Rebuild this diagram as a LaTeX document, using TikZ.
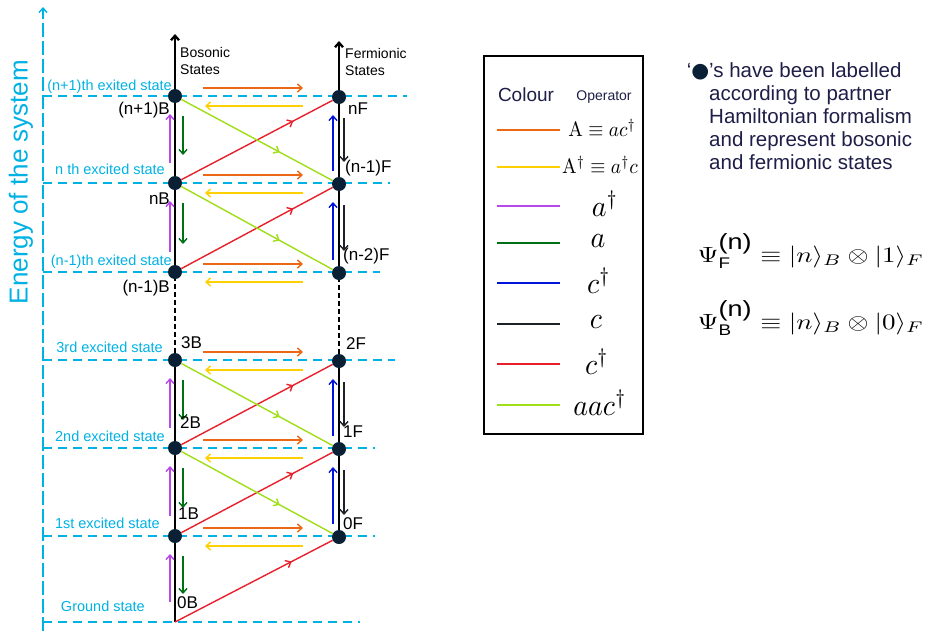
\documentclass[tikz,border=0pt]{standalone}
\usepackage{amsmath}
\usepackage{amssymb}
\usepackage{fontspec}
\setsansfont{Liberation Sans}
\newfontfamily\dejavu{DejaVu Sans}
\usetikzlibrary{arrows.meta,decorations.markings}
\definecolor{levelcyan}{RGB}{0,178,228}
\definecolor{statenavy}{RGB}{10,32,52}
\definecolor{opA}{RGB}{236,104,20}
\definecolor{opAd}{RGB}{255,208,0}
\definecolor{opad}{RGB}{186,72,232}
\definecolor{opa}{RGB}{0,112,20}
\definecolor{opcd}{RGB}{0,20,220}
\definecolor{opc}{RGB}{30,34,40}
\definecolor{opred}{RGB}{232,32,44}
\definecolor{oplime}{RGB}{160,222,24}
\definecolor{notetext}{RGB}{30,30,72}

\begin{document}
\begin{tikzpicture}[x=1pt, y=-1pt, font=\sffamily, >={Straight Barb[length=4.5pt,width=8pt]},
  state/.style={circle, fill=statenavy, minimum size=14pt, inner sep=0pt},
  level/.style={levelcyan, line width=1.4pt, dash pattern=on 9pt off 6pt},
  lvltxt/.style={levelcyan, font=\sffamily\fontsize{14.5}{16}\selectfont, inner sep=0pt, anchor=base east},
  lab/.style={font=\sffamily\fontsize{17}{19}\selectfont, inner sep=0pt},
  head/.style={font=\sffamily\fontsize{14}{17}\selectfont, inner sep=0pt, align=left, anchor=west},
  vline/.style={line width=2.3pt, black},
  op/.style={line width=1.4pt},
  mid/.style={postaction={decorate}, decoration={markings, mark=at position #1 with {\arrow{>}}}},
  eq/.style={anchor=base west, inner sep=0pt, xscale=2.7, yscale=2.2, font=\fontsize{10}{12}\selectfont}]
  \fill[white] (0,0) rectangle (928,631);
  \foreach \y/\e in {622/360,536/375,448/375,360/395,272/380,183/390,96/407}
    \draw[level] (43,\y) -- (\e,\y);
  \coordinate (e0) at (43,631);
  \coordinate (e1) at (43,7);
  \draw[level, ->, dash pattern=on 14pt off 4pt] (e0) -- (e1);
  \node[levelcyan, rotate=90, font=\sffamily\fontsize{26}{30}\selectfont] (elab) at (21,182) {Energy of the system};

  \coordinate (b0) at (175,622);
  \foreach \k/\y in {1/536,2/448,3/360,4/272,5/183,6/96} {
    \node[state] (b\k) at (175,\y) {};
    \node[state] (f\k) at (339,\y+1) {};
  }
  \coordinate (btop) at (175,34);
  \coordinate (ftop) at (339,41);
  \draw[vline] (b0) -- (b1) -- (b2) -- (b3);
  \draw[vline, dash pattern=on 5pt off 3pt] (b3) -- (b4);
  \draw[vline, ->] (b4) -- (b5) -- (b6) -- (btop);
  \draw[vline] (f1) -- (f2) -- (f3);
  \draw[vline, dash pattern=on 5pt off 3pt] (f3) -- (f4);
  \draw[vline, ->] (f4) -- (f5) -- (f6) -- (ftop);

  \foreach \k/\j in {0/1,1/2,2/3,4/5,5/6}
    \draw[opred, op, mid=0.74] (b\k) -- (f\j);
  \foreach \k/\j in {2/1,3/2,5/4,6/5}
    \draw[oplime, op, mid=0.65] (b\k) -- (f\j);
  \foreach \k in {1,...,6} {
    \draw[opA, op, ->] ([shift={(28,-8)}]b\k.center) -- ([shift={(-36,-9)}]f\k.center);
    \draw[opAd, op, ->] ([shift={(-36,9)}]f\k.center) -- ([shift={(30,10)}]b\k.center);
  }
  \foreach \lo/\hi in {0/1,1/2,2/3,4/5,5/6} {
    \draw[opad, op, ->] ([shift={(-5,-20)}]b\lo.center) -- ([shift={(-5,18)}]b\hi.center);
    \draw[opa, op, ->] ([shift={(8,20)}]b\hi.center) -- ([shift={(8,-28)}]b\lo.center);
  }
  \foreach \lo/\hi in {1/2,2/3,4/5,5/6} {
    \draw[opcd, op, ->] ([shift={(-6,-13)}]f\lo.center) -- ([shift={(-6,18)}]f\hi.center);
    \draw[opc, op, ->] ([shift={(5,21)}]f\hi.center) -- ([shift={(5,-22)}]f\lo.center);
  }

  \node[lvltxt] (t6) at (172,90) {(n+1)th exited state};
  \node[lvltxt] (t5) at (165,174) {n th excited state};
  \node[lvltxt] (t4) at (172,265) {(n-1)th exited state};
  \node[lvltxt] (t3) at (163,352) {3rd excited state};
  \node[lvltxt] (t2) at (165,441) {2nd excited state};
  \node[lvltxt] (t1) at (160,528) {1st excited state};
  \node[lvltxt] (t0) at (145,611) {Ground state};

  \node[head] (bos) at (180,61) {Bosonic\\States};
  \node[head] (fer) at (345,62) {Fermionic\\States};

  \node[lab, anchor=east] (lb6) at (170,110) {(n+1)B};
  \node[lab, anchor=east] (lb5) at (170,199) {nB};
  \node[lab, anchor=east] (lb4) at (170,288) {(n-1)B};
  \node[lab, anchor=west] (lb3) at (181,343) {3B};
  \node[lab, anchor=west] (lb2) at (180,423) {2B};
  \node[lab, anchor=west] (lb1) at (178,514) {1B};
  \node[lab, anchor=west] (lb0) at (177,603) {0B};
  \node[lab, anchor=west] (lf6) at (348,109) {nF};
  \node[lab, anchor=west] (lf5) at (345,168) {(n-1)F};
  \node[lab, anchor=west] (lf4) at (343,256) {(n-2)F};
  \node[lab, anchor=west] (lf3) at (346,344) {2F};
  \node[lab, anchor=west] (lf2) at (343,432) {1F};
  \node[lab, anchor=west] (lf1) at (343,524) {0F};

  \node[draw, line width=2.6pt, minimum width=159pt, minimum height=378pt, inner sep=0pt] (key) at (563.5,245) {};
  \node[text=notetext, font=\sffamily\fontsize{19}{22}\selectfont] (hcol) at (526,95) {Colour};
  \node[text=notetext, font=\sffamily\fontsize{14}{16}\selectfont] (hop) at (604,97) {Operator};
  \foreach \c/\y/\x/\sx/\sy/\t [count=\i] in {opA/130/602/1.95/2.1/{$\mathrm{A}\equiv ac^{\dagger}$},
      opAd/167/600/1.95/2.1/{$\mathrm{A}^{\dagger}\equiv a^{\dagger}c$},
      opad/206/605/2.8/3/{$a^{\dagger}$}, opa/243/598/2.8/3/{$a$}, opcd/283/599/2.8/3/{$c^{\dagger}$},
      opc/324/596/2.8/3/{$c$}, opred/364/597/2.8/3/{$c^{\dagger}$}, oplime/405/600/2.8/3/{$aac^{\dagger}$}} {
    \coordinate (k\i) at (497,\y);
    \coordinate (ke\i) at (560,\y);
    \draw[\c, line width=1.5pt] (k\i) -- (ke\i);
    \node[font=\fontsize{10}{12}\selectfont, inner sep=0pt, xscale=\sx, yscale=\sy] (kt\i) at (\x,\y-2) {\t};
  }

  \node[text=notetext, font=\sffamily\fontsize{20.5}{23}\selectfont, align=left, anchor=north west, inner sep=0pt] (note) at (709,62)
    {\llap{‘\textcolor{statenavy}{\dejavu●}}’s have been labelled\\according to partner\\Hamiltonian formalism\\and represent bosonic\\and fermionic states};
  \node[eq] (psiF) at (697,262) {$\Psi_{\textsf{F}}^{\mbox{\sffamily(n)}} \equiv |n\rangle_B \otimes |1\rangle_F$};
  \node[eq] (psiB) at (697,329) {$\Psi_{\textsf{B}}^{\mbox{\sffamily(n)}} \equiv |n\rangle_B \otimes |0\rangle_F$};
\end{tikzpicture}
\end{document}
